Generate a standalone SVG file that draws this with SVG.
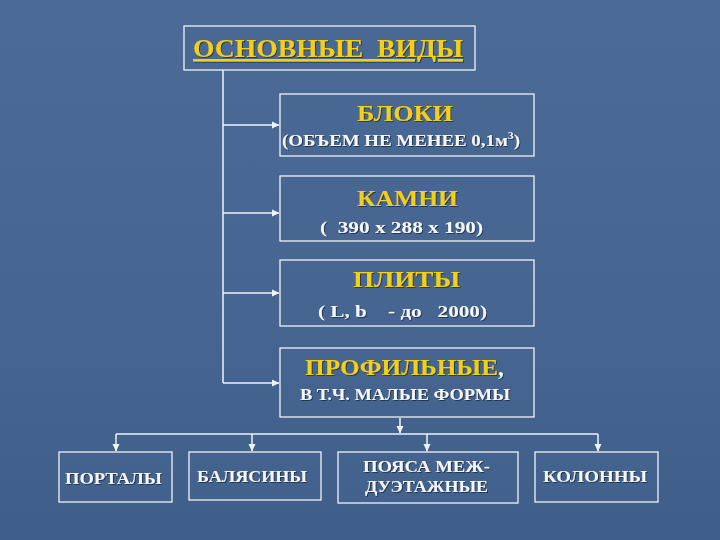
<svg xmlns="http://www.w3.org/2000/svg" width="720" height="540" viewBox="0 0 720 540">
<defs>
<linearGradient id="bg" x1="0" y1="0" x2="0" y2="1">
<stop offset="0" stop-color="#4b6b96"/>
<stop offset="0.5" stop-color="#476792"/>
<stop offset="1" stop-color="#3f5e89"/>
</linearGradient>
<marker id="ah" markerWidth="8" markerHeight="8" refX="7" refY="4" orient="auto" markerUnits="userSpaceOnUse">
<path d="M0,0.5 L7.5,4 L0,7.5 Z" fill="#eef3f8"/>
</marker>
<filter id="sh" x="-5%" y="-20%" width="110%" height="140%">
<feDropShadow dx="1" dy="1" stdDeviation="0.6" flood-color="#1c2a40" flood-opacity="0.8"/>
</filter>
</defs>
<style>
.box{fill:#486893;fill-opacity:0.35;stroke:#eef3f8;stroke-width:1.3}
.ln{fill:none;stroke:#eef3f8;stroke-width:1.5}
.t{font-family:"Liberation Serif","Times New Roman",serif;font-weight:bold;filter:url(#sh);white-space:pre}
.y{fill:#f3cf14;font-size:23px}
.w{fill:#f4f6f8;font-size:16px}
.b{fill:#f4f6f8;font-size:17px}
</style>
<rect width="720" height="540" fill="url(#bg)"/>

<g id="connectors">
<path class="ln" d="M223,70 V383"/>
<path class="ln" d="M223,125 H279" marker-end="url(#ah)"/>
<path class="ln" d="M223,213 H279" marker-end="url(#ah)"/>
<path class="ln" d="M223,293 H279" marker-end="url(#ah)"/>
<path class="ln" d="M223,383 H279" marker-end="url(#ah)"/>
<path class="ln" d="M400,418 V433" marker-end="url(#ah)"/>
<path class="ln" d="M116,434 H598"/>
<path class="ln" d="M116,434 V451" marker-end="url(#ah)"/>
<path class="ln" d="M252,434 V451" marker-end="url(#ah)"/>
<path class="ln" d="M427,434 V451" marker-end="url(#ah)"/>
<path class="ln" d="M598,434 V451" marker-end="url(#ah)"/>
</g>

<g id="main">
<rect class="box" x="184" y="26" width="291" height="44"/>
<text class="t" x="193" y="57" font-size="26" fill="#f3cf14" text-decoration="underline" textLength="270" lengthAdjust="spacingAndGlyphs" xml:space="preserve">ОСНОВНЫЕ  ВИДЫ</text>
</g>

<g id="bloki">
<rect class="box" x="280" y="94" width="254" height="62"/>
<text class="t y" x="357" y="121" textLength="96" lengthAdjust="spacingAndGlyphs">БЛОКИ</text>
<text class="t w" x="282" y="146" textLength="238" lengthAdjust="spacingAndGlyphs">(ОБЪЕМ НЕ МЕНЕЕ 0,1м<tspan font-size="10" dy="-7">3</tspan><tspan dy="7">)</tspan></text>
</g>

<g id="kamni">
<rect class="box" x="280" y="176" width="254" height="65"/>
<text class="t y" x="357" y="206" textLength="101" lengthAdjust="spacingAndGlyphs">КАМНИ</text>
<text class="t w" x="320" y="233" font-size="17" textLength="163" lengthAdjust="spacingAndGlyphs" xml:space="preserve">(  390 х 288 х 190)</text>
</g>

<g id="plity">
<rect class="box" x="280" y="260" width="254" height="66"/>
<text class="t y" x="353" y="287" textLength="107" lengthAdjust="spacingAndGlyphs">ПЛИТЫ</text>
<text class="t w" x="318" y="317" font-size="17" textLength="169" lengthAdjust="spacingAndGlyphs" xml:space="preserve">( L, b    - до   2000)</text>
</g>

<g id="profil">
<rect class="box" x="280" y="348" width="254" height="69"/>
<text class="t y" x="305" y="375"><tspan textLength="193" lengthAdjust="spacingAndGlyphs">ПРОФИЛЬНЫЕ</tspan><tspan fill="#f4f6f8">,</tspan></text>
<text class="t w" x="300" y="400" font-size="15" textLength="210" lengthAdjust="spacingAndGlyphs">В Т.Ч. МАЛЫЕ ФОРМЫ</text>
</g>

<g id="portaly">
<rect class="box" x="59" y="452" width="113" height="50"/>
<text class="t b" x="65" y="484" textLength="97" lengthAdjust="spacingAndGlyphs">ПОРТАЛЫ</text>
</g>

<g id="balyasiny">
<rect class="box" x="189" y="452" width="132" height="48"/>
<text class="t b" x="197" y="482" textLength="110" lengthAdjust="spacingAndGlyphs">БАЛЯСИНЫ</text>
</g>

<g id="poyasa">
<rect class="box" x="338" y="452" width="180" height="51"/>
<text class="t b" x="363" y="472" textLength="127" lengthAdjust="spacingAndGlyphs">ПОЯСА МЕЖ-</text>
<text class="t b" x="365" y="492" textLength="123" lengthAdjust="spacingAndGlyphs">ДУЭТАЖНЫЕ</text>
</g>

<g id="kolonny">
<rect class="box" x="535" y="452" width="123" height="50"/>
<text class="t b" x="543" y="482" textLength="104" lengthAdjust="spacingAndGlyphs">КОЛОННЫ</text>
</g>
</svg>
